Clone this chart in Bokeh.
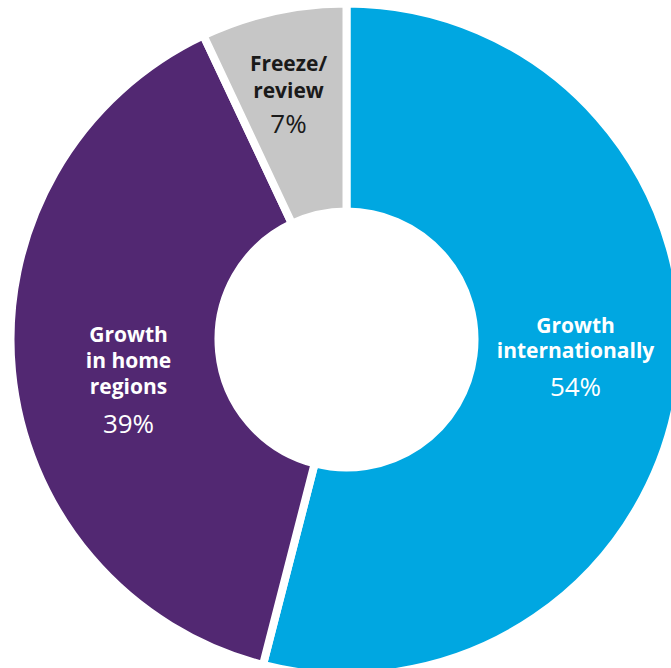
import numpy as np
from bokeh.plotting import figure
from bokeh.models import ColumnDataSource
from bokeh.core.properties import value
from bokeh.embed import file_html
from bokeh.resources import INLINE

# Share of respondents by strategy (per cent), drawn clockwise from 12 o'clock
categories = ["Growth internationally", "Growth in home regions", "Freeze/review"]
shares = [54, 39, 7]
colors = ["#00A7E1", "#522872", "#C6C6C6"]
name_lines = [["Growth", "internationally"], ["Growth", "in home", "regions"], ["Freeze/", "review"]]
name_color = ["white", "white", "#1a1a1a"]

W, H = 671, 668
cx, cy = 346, H - 339          # donut centre in canvas units
r_out, r_in = 332, 132
gap = 8                          # white separator width

fracs = np.array(shares) / sum(shares)
ends = np.pi / 2 - 2 * np.pi * np.cumsum(fracs)
starts = np.concatenate([[np.pi / 2], ends[:-1]])

src = ColumnDataSource(dict(cat=categories, share=shares, start=ends, end=starts, color=colors))

p = figure(width=W, height=H, x_range=(0, W), y_range=(0, H),
           output_backend="svg", toolbar_location=None, min_border=0,
           background_fill_color="white", border_fill_color="white")
p.axis.visible = False
p.grid.visible = False
p.outline_line_color = None

p.annular_wedge(x=cx, y=cy, inner_radius=r_in - gap / 2, outer_radius=r_out + gap / 2,
                start_angle="start", end_angle="end", fill_color="color",
                line_color="white", line_width=gap, source=src)

# first-line anchor of each label (offset from centre), line spacing and gap to the percentage
label_xy = [(229, 15), (-218, 6), (-58, 277)]
line_step = [25, 26, 27]
pct_gap = [36, 37, 33]

for i, lines in enumerate(name_lines):
    lx, top = cx + label_xy[i][0], cy + label_xy[i][1]
    n = len(lines)
    ys = [top - k * line_step[i] for k in range(n)]
    p.text(x=[lx] * n, y=ys, text=lines, text_align="center", text_baseline="middle",
           text_font=value("Open Sans"), text_font_style="bold", text_font_size="21px",
           text_color=name_color[i])
    p.text(x=[lx], y=[ys[-1] - pct_gap[i]], text=[f"{shares[i]}%"], text_align="center",
           text_baseline="middle", text_font=value("Open Sans"), text_font_size="26px",
           text_color=name_color[i])

open("out.html", "w").write(file_html(p, INLINE))
